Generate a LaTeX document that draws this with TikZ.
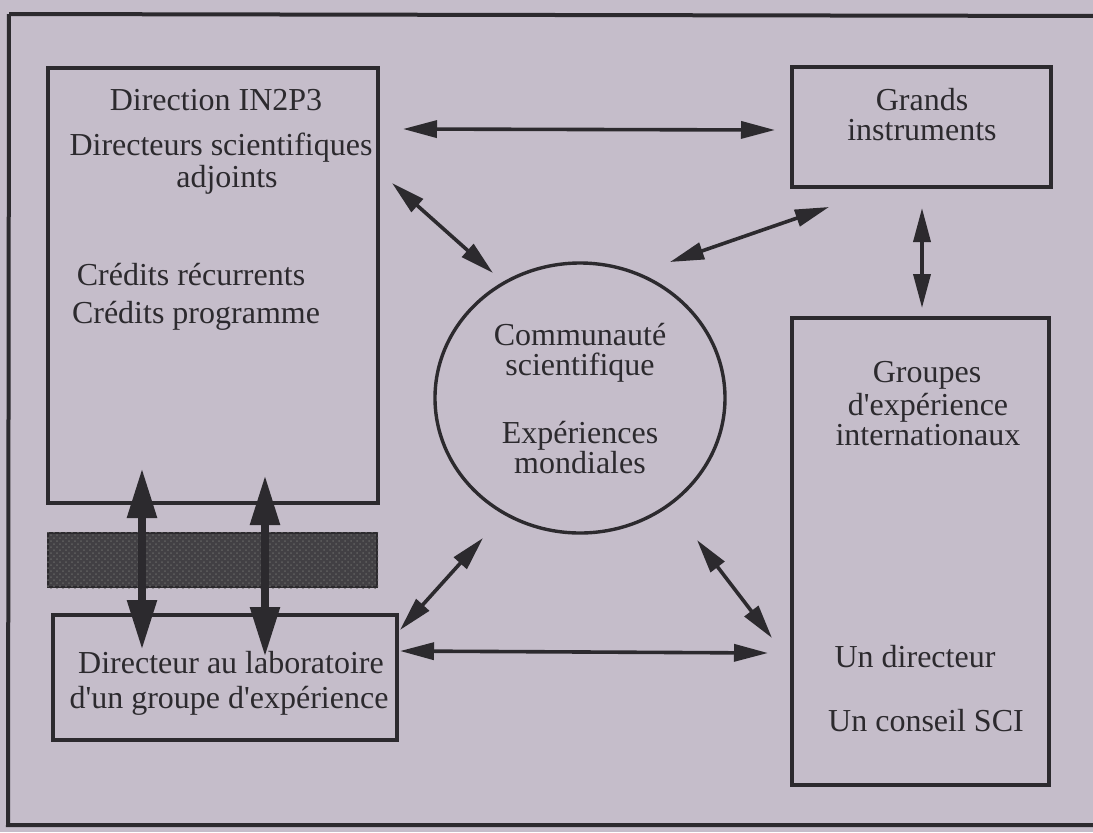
\documentclass[tikz,border=0pt]{standalone}
\usepackage{fontspec}
\setmainfont{Liberation Serif}
\usetikzlibrary{arrows.meta,shapes.geometric,patterns}
\definecolor{bg}{RGB}{197,189,202}
\definecolor{ink}{RGB}{44,42,46}
\definecolor{bar}{RGB}{66,64,68}
\begin{document}
\begin{tikzpicture}[x=0.5pt,y=-0.5pt,
  box/.style={draw=ink,line width=1.9pt,inner sep=0pt,rectangle},
  lbl/.style={anchor=base,text=ink,inner sep=0pt,font=\fontsize{16}{19}\selectfont},
  thinarrow/.style={draw=ink,line width=1.8pt,
    {Triangle[length=17pt,width=8.5pt]}-{Triangle[length=17pt,width=8.5pt]}},
  thickarrow/.style={draw=ink,line width=4.3pt,
    {Triangle[length=25pt,width=14pt]}-{Triangle[length=25pt,width=14pt]}}]
\useasboundingbox (0,0) rectangle (1093,832);
\clip (0,0) rectangle (1093,832);
\fill[bg] (0,0) rectangle (1093,832);
% outer frame
\draw[ink,line width=2pt] (9,14) -- (1110,16) (9,14) -- (8,825) -- (1110,825);

% boxes
\node[box,minimum width=165pt,minimum height=217.5pt] (dir) at (213,285.5) {};
\node[box,minimum width=172pt,minimum height=62.5pt] (lab) at (225,677.5) {};
\node[box,minimum width=129.5pt,minimum height=60pt] (gi) at (921.5,127) {};
\node[box,minimum width=128.5pt,minimum height=233.5pt] (grp) at (920.5,551.5) {};
\node[draw=ink,line width=1.7pt,ellipse,inner sep=0pt,minimum width=145pt,minimum height=135pt] (com) at (580,398) {};
\node[draw=ink,line width=1pt,fill=bar,inner sep=0pt,minimum width=164.5pt,minimum height=27pt] (bar) at (212.5,560) {};
\fill[pattern=crosshatch dots,pattern color=gray!75!black] (bar.south west) rectangle (bar.north east);

% texts
\node[lbl] (d1) at (216,110) {Direction IN2P3};
\node[lbl] (d2) at (221,155) {Directeurs scientifiques};
\node[lbl] (d3) at (227,187) {adjoints};
\node[lbl] (d4) at (191,285) {Crédits récurrents};
\node[lbl] (d5) at (196,323) {Crédits programme};
\node[lbl] (c1) at (580,345) {Communauté};
\node[lbl] (c2) at (580,375) {scientifique};
\node[lbl] (c3) at (580,443) {Expériences};
\node[lbl] (c4) at (580,473) {mondiales};
\node[lbl] (g1) at (922,110) {Grands};
\node[lbl] (g2) at (922,140) {instruments};
\node[lbl] (e1) at (927,382) {Groupes};
\node[lbl] (e2) at (928,415) {d\textquotesingle expérience};
\node[lbl] (e3) at (928,445) {internationaux};
\node[lbl] (e4) at (915,667) {Un directeur};
\node[lbl] (e5) at (926,731) {Un conseil SCI};
\node[lbl] (l1) at (231,673) {Directeur au laboratoire};
\node[lbl] (l2) at (229,708) {d\textquotesingle un groupe d\textquotesingle expérience};

% arrow end points
\coordinate (a1s) at (403,129); \coordinate (a1e) at (775,130);
\coordinate (a2s) at (392,183); \coordinate (a2e) at (493,273);
\coordinate (a3s) at (670,262); \coordinate (a3e) at (829,207);
\coordinate (a4s) at (922,208); \coordinate (a4e) at (922,308);
\coordinate (a5s) at (483,538); \coordinate (a5e) at (400,630);
\coordinate (a6s) at (697,540); \coordinate (a6e) at (772,638);
\coordinate (a7s) at (400,651); \coordinate (a7e) at (768,653);
\coordinate (t1s) at (142,468); \coordinate (t1e) at (142,650);
\coordinate (t2s) at (265,475); \coordinate (t2e) at (265,657);

\draw[thinarrow] (a1s) -- (a1e);
\draw[thinarrow] (a2s) -- (a2e);
\draw[thinarrow] (a3s) -- (a3e);
\draw[thinarrow] (a4s) -- (a4e);
\draw[thinarrow] (a5s) -- (a5e);
\draw[thinarrow] (a6s) -- (a6e);
\draw[thinarrow] (a7s) -- (a7e);
\draw[thickarrow] (t1s) -- (t1e);
\draw[thickarrow] (t2s) -- (t2e);
\end{tikzpicture}
\end{document}
